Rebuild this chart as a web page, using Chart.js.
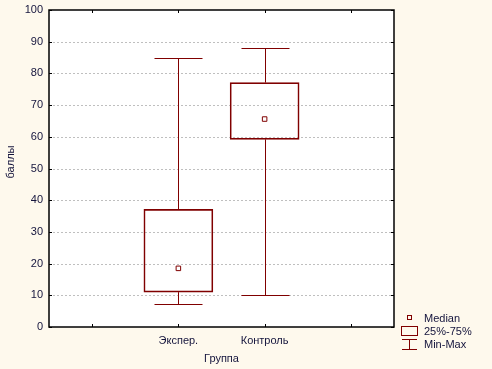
<!DOCTYPE html>
<html>
<head>
<meta charset="utf-8">
<script src="https://cdn.jsdelivr.net/npm/chart.js@4"></script>
<style>
  html, body { margin:0; padding:0; background:#fef9ed; }
  #wrap { width:492px; height:369px; position:relative; }
</style>
</head>
<body>
<div id="wrap"><canvas id="c" width="492" height="369"></canvas></div>
<script>
// ---- data ----
const categories = ['', 'Экспер.', 'Контроль', ''];
const mins    = [null, 7.2, 10.0, null];
const q1s     = [null, 11.0, 59.2, null];
const medians = [null, 18.5, 65.6, null];
const q3s     = [null, 37.1, 77.1, null];
const maxs    = [null, 85.0, 88.1, null];
const yTicks  = [0, 10, 20, 30, 40, 50, 60, 70, 80, 90, 100];
const yTitle = 'баллы';
const xTitle = 'Группа';
const legendLabels = ['Median', '25%-75%', 'Min-Max'];

const RED = '#800000';
const TXT = '#14143c';
const FONT = { family: 'Liberation Sans, Arial, sans-serif', size: 11 };

const boxData = categories.map((c, i) => (q1s[i] == null ? null : [q1s[i], q3s[i]]));

const boxPlugin = {
  id: 'boxExtras',
  beforeDatasetsDraw(chart) {
    const ctx = chart.ctx, a = chart.chartArea, xs = chart.scales.x, ys = chart.scales.y;
    ctx.save();
    // dotted grid lines
    ctx.strokeStyle = '#bfbfbf'; ctx.lineWidth = 1;
    ctx.setLineDash([2, 2]);
    ctx.beginPath();
    yTicks.forEach(v => {
      if (v === 0 || v === 100) return;
      const y = Math.round(ys.getPixelForValue(v)) + 0.5;
      ctx.moveTo(a.left, y); ctx.lineTo(a.right, y);
    });
    ctx.stroke();
    ctx.setLineDash([]);
    // whiskers
    ctx.strokeStyle = RED; ctx.lineWidth = 1;
    const half = 24;
    categories.forEach((c, i) => {
      if (mins[i] == null) return;
      const x = Math.round(xs.getPixelForValue(i)) + 0.5;
      const yMax = Math.round(ys.getPixelForValue(maxs[i])) + 0.5;
      const yQ3 = ys.getPixelForValue(q3s[i]);
      const yQ1 = ys.getPixelForValue(q1s[i]);
      const yMin = Math.round(ys.getPixelForValue(mins[i])) + 0.5;
      ctx.beginPath();
      ctx.moveTo(x, yMax); ctx.lineTo(x, yQ3);
      ctx.moveTo(x, yQ1); ctx.lineTo(x, yMin);
      ctx.moveTo(x - half, yMax); ctx.lineTo(x + half, yMax);
      ctx.moveTo(x - half, yMin); ctx.lineTo(x + half, yMin);
      ctx.stroke();
    });
    ctx.restore();
  },
  afterDraw(chart) {
    const ctx = chart.ctx, a = chart.chartArea, xs = chart.scales.x, ys = chart.scales.y;
    ctx.save();
    // frame
    ctx.strokeStyle = '#000'; ctx.lineWidth = 1.5;
    ctx.strokeRect(a.left, a.top, a.right - a.left, a.bottom - a.top);
    // inward ticks
    ctx.lineWidth = 1;
    ctx.beginPath();
    categories.forEach((c, i) => {
      const x = Math.round(xs.getPixelForValue(i)) + 0.5;
      ctx.moveTo(x, a.bottom); ctx.lineTo(x, a.bottom - 3);
      ctx.moveTo(x, a.top); ctx.lineTo(x, a.top + 3);
    });
    yTicks.forEach(v => {
      const y = Math.round(ys.getPixelForValue(v)) + 0.5;
      ctx.moveTo(a.left, y); ctx.lineTo(a.left + 3, y);
      ctx.moveTo(a.right, y); ctx.lineTo(a.right - 3, y);
    });
    ctx.stroke();
    // y title
    ctx.fillStyle = TXT;
    ctx.font = '11px "Liberation Sans", Arial, sans-serif';
    ctx.save();
    ctx.translate(11, 162);
    ctx.rotate(-Math.PI / 2);
    ctx.textAlign = 'center';
    ctx.textBaseline = 'middle';
    ctx.fillText(yTitle, 0, 0);
    ctx.restore();
    // legend
    const lx = 409.5;
    ctx.strokeStyle = RED; ctx.lineWidth = 1;
    ctx.strokeRect(407.5, 315.5, 4, 4);
    ctx.strokeRect(401.5, 326.5, 16, 9);
    ctx.beginPath();
    ctx.moveTo(402, 339.5); ctx.lineTo(417, 339.5);
    ctx.moveTo(lx, 339.5); ctx.lineTo(lx, 349.5);
    ctx.moveTo(402, 349.5); ctx.lineTo(417, 349.5);
    ctx.stroke();
    ctx.textBaseline = 'middle';
    ctx.textAlign = 'left';
    ctx.fillText(legendLabels[0], 424, 318.5);
    ctx.fillText(legendLabels[1], 424, 331.5);
    ctx.fillText(legendLabels[2], 424, 344.5);
    ctx.restore();
  }
};

const bgPlugin = {
  id: 'bg',
  beforeDraw(chart) {
    const ctx = chart.ctx, a = chart.chartArea;
    ctx.save();
    ctx.fillStyle = '#fef9ed';
    ctx.fillRect(0, 0, chart.width, chart.height);
    ctx.fillStyle = '#ffffff';
    ctx.fillRect(a.left, a.top, a.right - a.left, a.bottom - a.top);
    ctx.restore();
  }
};

new Chart(document.getElementById('c'), {
  type: 'bar',
  data: {
    labels: categories,
    datasets: [
      {
        label: '25%-75%',
        data: boxData,
        backgroundColor: 'rgba(0,0,0,0)',
        borderColor: RED,
        borderWidth: 1,
        borderSkipped: false,
        barThickness: 69,
        grouped: false,
        order: 2
      },
      {
        type: 'line',
        label: 'Median',
        data: medians,
        showLine: false,
        pointStyle: 'rect',
        pointRadius: 3.2,
        pointBorderWidth: 1,
        pointBorderColor: RED,
        pointBackgroundColor: '#ffffff',
        order: 1
      }
    ]
  },
  options: {
    responsive: false,
    animation: false,
    devicePixelRatio: 1,
    layout: { padding: { top: 10, right: 98, left: 0, bottom: 0 } },
    plugins: { legend: { display: false }, tooltip: { enabled: false } },
    scales: {
      x: {
        offset: true,
        grid: { display: false, drawTicks: false },
        border: { display: false },
        ticks: { color: TXT, font: FONT, padding: 7, maxRotation: 0, autoSkip: false },
        title: { display: true, text: xTitle, color: TXT, font: FONT, padding: { top: 0, bottom: 3 } },
        afterFit(s) { s.height = 42; s.paddingLeft = 0; s.paddingRight = 0; }
      },
      y: {
        min: 0, max: 100,
        afterBuildTicks(s) { s.ticks = yTicks.map(v => ({ value: v })); },
        grid: { display: false, drawTicks: false },
        border: { display: false },
        ticks: { color: TXT, font: FONT, padding: 6 },
        afterFit(s) { s.width = 49; s.paddingTop = 0; s.paddingBottom = 0; }
      }
    }
  },
  plugins: [bgPlugin, boxPlugin]
});
</script>
</body>
</html>
